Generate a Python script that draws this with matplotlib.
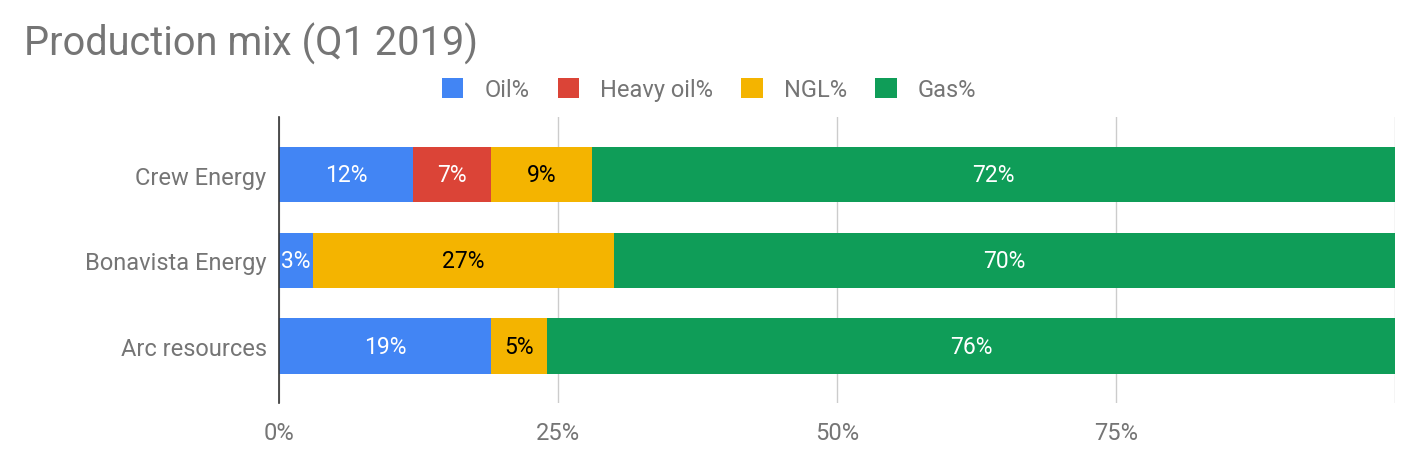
import matplotlib.pyplot as plt
import numpy as np

plt.rcParams['font.family'] = ['Roboto', 'DejaVu Sans']

companies = ['Crew Energy', 'Bonavista Energy', 'Arc resources']
series = ['Oil%', 'Heavy oil%', 'NGL%', 'Gas%']
oil = [12, 3, 19]
heavy_oil = [7, 0, 0]
ngl = [9, 27, 5]
gas = [72, 70, 76]
colors = ['#4285F4', '#DB4437', '#F4B400', '#0F9D58']
label_colors = ['white', 'white', 'black', 'white']

values = [oil, heavy_oil, ngl, gas]
grey = '#757575'

fig = plt.figure(figsize=(14.18, 4.64), dpi=100)
ax = fig.add_axes([0.1968, 0.1293, 0.787, 0.6164])

y = np.arange(len(companies))
left = np.zeros(len(companies))
for name, vals, col, lc in zip(series, values, colors, label_colors):
    vals = np.array(vals, dtype=float)
    bars = ax.barh(y, vals, left=left, height=0.65, color=col, label=name, zorder=3)
    for b, v in zip(bars, vals):
        if v > 0:
            ax.text(b.get_x() + b.get_width() / 2, b.get_y() + b.get_height() / 2,
                    f'{v:.0f}%', ha='center', va='center', color=lc, fontsize=16.5, zorder=4)
    left += vals

ax.set_xlim(0, 100)
ax.set_ylim(2.66, -0.67)
ax.set_yticks(y)
ax.set_yticklabels(companies, fontsize=17, color=grey)
ax.set_xticks([0, 25, 50, 75, 100])
ax.set_xticklabels(['0%', '25%', '50%', '75%', ''], fontsize=17, color=grey)
ax.tick_params(axis='both', length=0)
ax.tick_params(axis='y', pad=9)
ax.tick_params(axis='x', pad=13)
ax.grid(axis='x', color='#cccccc', linewidth=1, zorder=0)
for s in ['top', 'right', 'bottom']:
    ax.spines[s].set_visible(False)
ax.spines['left'].set_color('#333333')
ax.spines['left'].set_linewidth(1.2)
ax.spines['left'].set_zorder(5)

fig.text(0.017, 0.905, 'Production mix (Q1 2019)', fontsize=28.6, color=grey, va='center')
fig.legend(loc='center', bbox_to_anchor=(0.5, 0.805), ncol=4, frameon=False,
           fontsize=17, labelcolor=grey, handlelength=0.9, handleheight=0.9,
           columnspacing=1.2, handletextpad=0.9)

fig.savefig('out.png', dpi=100)
